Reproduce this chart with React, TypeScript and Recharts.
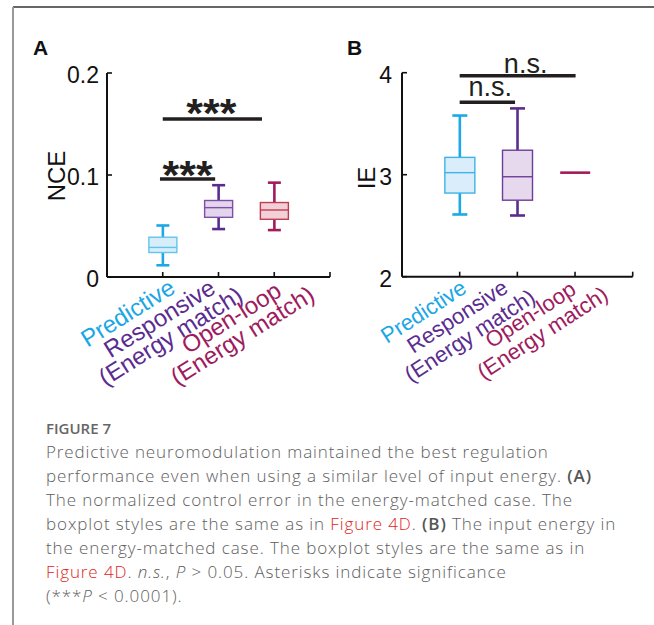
import React from "react";
import { ComposedChart, Bar, XAxis, YAxis, ReferenceLine } from "recharts";

// ---------------- data ----------------
const categories = ["Predictive", "Responsive", "Open-loop"];
const categoryLabelLines = [["Predictive"], ["Responsive", "(Energy match)"], ["Open-loop", "(Energy match)"]];
const categoryX = [1, 2, 3];

// Panel A: normalized control error (NCE)
const nceMin = [0.0115, 0.047, 0.046];
const nceQ1 = [0.024, 0.0585, 0.0566];
const nceMedian = [0.029, 0.068, 0.0657];
const nceQ3 = [0.039, 0.075, 0.073];
const nceMax = [0.0505, 0.09, 0.0925];

// Panel B: input energy (IE)
const ieMin = [2.61, 2.6, 3.02];
const ieQ1 = [2.82, 2.75, 3.02];
const ieMedian = [3.02, 2.98, 3.02];
const ieQ3 = [3.17, 3.24, 3.02];
const ieMax = [3.58, 3.65, 3.02];

const nceTicks = [0, 0.1, 0.2];
const nceTickLabels = ["0", "0.1", "0.2"];
const ieTicks = [2, 3, 4];
const ieTickLabels = ["2", "3", "4"];
const xTicks = [1, 2, 3, 4];

// significance brackets
const nceSigFrom = [0.95, 1.0];
const nceSigTo = [1.94, 2.78];
const nceSigY = [0.096, 0.155];
const nceSigText = ["***", "***"];

const ieSigFrom = [1.0, 1.0];
const ieSigTo = [1.96, 3.01];
const ieSigY = [3.71, 3.97];
const ieSigText = ["n.s.", "n.s."];

// ---------------- styles ----------------
const FONT = "'Liberation Sans', Arial, Helvetica, sans-serif";
const whiskerColors = ["#1ba8e5", "#5b2c90", "#a21b5c"];
const labelColors = ["#1ba6e6", "#5b2c90", "#9e1b5e"];
const boxStrokeA = ["#62c4ee", "#7d4fa6", "#c33b50"];
const boxFillA = ["#d7eefa", "#e3d5eb", "#f1d1d7"];
const boxStrokeB = ["#3fb3e8", "#6d3d9c", "#a21b5c"];
const boxFillB = ["#d9eefa", "#e6d8ed", "#f1d1d7"];

// rotated tick-label layout (local coords in the rotated frame)
const labelCfgA = [
  { anchor: "end", a: [4], k: [20] },
  { anchor: "middle", a: [-72, -72], k: [12, 33] },
  { anchor: "middle", a: [-58, -58], k: [20, 41] },
];
const labelCfgB = [
  { anchor: "end", a: [-1], k: [17] },
  { anchor: "middle", a: [-72, -72], k: [8, 31] },
  { anchor: "middle", a: [-58, -58], k: [15, 37] },
];

function buildRows(mn: number[], q1: number[], md: number[], q3: number[], mx: number[]) {
  return categories.map((c, i) => ({
    name: c,
    idx: i,
    x: categoryX[i],
    range: [mn[i], mx[i]],
    min: mn[i],
    q1: q1[i],
    med: md[i],
    q3: q3[i],
    max: mx[i],
  }));
}

const nceRows = buildRows(nceMin, nceQ1, nceMedian, nceQ3, nceMax);
const ieRows = buildRows(ieMin, ieQ1, ieMedian, ieQ3, ieMax);

function makeBoxShape(boxStroke: string[], boxFill: string[], capHalf: number) {
  return (props: any) => {
    const { x, y, width, height, payload } = props;
    if (!payload) return null;
    const i = payload.idx;
    const top = Math.min(y, y + height);
    const bot = Math.max(y, y + height);
    const span = payload.max - payload.min;
    const py = (v: number) => (span > 0 ? top + ((payload.max - v) / span) * (bot - top) : top);
    const cx = x + width / 2;
    const wc = whiskerColors[i];
    if (span === 0) {
      return <line x1={x} x2={x + width} y1={top} y2={top} stroke={wc} strokeWidth={2.6} />;
    }
    return (
      <g>
        <line x1={cx} x2={cx} y1={py(payload.max)} y2={py(payload.q3)} stroke={wc} strokeWidth={2.6} />
        <line x1={cx} x2={cx} y1={py(payload.q1)} y2={py(payload.min)} stroke={wc} strokeWidth={2.6} />
        <line x1={cx - capHalf} x2={cx + capHalf} y1={py(payload.max)} y2={py(payload.max)} stroke={wc} strokeWidth={2.6} />
        <line x1={cx - capHalf} x2={cx + capHalf} y1={py(payload.min)} y2={py(payload.min)} stroke={wc} strokeWidth={2.6} />
        <rect
          x={x}
          y={py(payload.q3)}
          width={width}
          height={py(payload.q1) - py(payload.q3)}
          fill={boxFill[i]}
          stroke={boxStroke[i]}
          strokeWidth={1.4}
        />
        <line x1={x} x2={x + width} y1={py(payload.med)} y2={py(payload.med)} stroke={boxStroke[i]} strokeWidth={1.4} />
      </g>
    );
  };
}

function makeXTick(cfg: any[], fontSize: number, angle: number) {
  return (props: any) => {
    const { x, y, payload } = props;
    const i = categoryX.indexOf(payload.value);
    return (
      <g>
        <line x1={x} x2={x} y1={y} y2={y - 5} stroke="#111" strokeWidth={1.6} />
        {i >= 0 && (
          <g transform={`translate(${x},${y}) rotate(${-angle})`}>
            {categoryLabelLines[i].map((t, j) => (
              <text
                key={j}
                x={cfg[i].a[j]}
                y={cfg[i].k[j]}
                textAnchor={cfg[i].anchor}
                fontSize={fontSize}
                fontFamily={FONT}
                fill={labelColors[i]}
              >
                {t}
              </text>
            ))}
          </g>
        )}
      </g>
    );
  };
}

function makeYTick(ticks: number[], labels: string[], gap: number) {
  return (props: any) => {
    const { x, y, payload } = props;
    const i = ticks.findIndex((t) => Math.abs(t - payload.value) < 1e-9);
    return (
      <g>
        <line x1={x} x2={x + 5} y1={y} y2={y} stroke="#111" strokeWidth={1.6} />
        <text x={x - gap} y={y + 2} textAnchor="end" dominantBaseline="central" fontSize={23} fontFamily={FONT} fill="#111">
          {i >= 0 ? labels[i] : ""}
        </text>
      </g>
    );
  };
}

const SigLabel = (props: any) => {
  const { viewBox, text, dx, dy, fontSize, bold, textLength } = props;
  if (!viewBox) return null;
  const cx = viewBox.x + viewBox.width / 2 + dx;
  return (
    <text
      x={cx}
      y={viewBox.y + dy}
      textAnchor="middle"
      fontSize={fontSize}
      fontWeight={bold ? "bold" : "normal"}
      fontFamily={FONT}
      fill="#231f20"
      textLength={textLength}
      lengthAdjust="spacingAndGlyphs"
    >
      {text}
    </text>
  );
};

const starsDx = [0, -1];
const starsDy = [10, 8];
const nsDx = [3, 8];
const nsDy = [-6.5, -3];

const BoxA = makeBoxShape(boxStrokeA, boxFillA, 6.5);
const BoxB = makeBoxShape(boxStrokeB, boxFillB, 7.5);
const XTickA = makeXTick(labelCfgA, 24, 32);
const XTickB = makeXTick(labelCfgB, 22, 33);
const YTickA = makeYTick(nceTicks, nceTickLabels, 8);
const YTickB = makeYTick(ieTicks, ieTickLabels, 10);

const axisStyle = { stroke: "#111", strokeWidth: 2 };

export default function App() {
  return (
    <div style={{ position: "absolute", left: 0, top: 0, width: 654, height: 625, background: "#fff", overflow: "hidden" }}>
      {/* Panel A */}
      <div style={{ position: "absolute", left: 0, top: 0 }}>
        <ComposedChart width={340} height={400} data={nceRows} margin={{ top: 73, right: 10, bottom: 122, left: 106 }}>
          <XAxis
            dataKey="x"
            type="number"
            domain={[0, 4]}
            ticks={xTicks}
            interval={0}
            height={1}
            tickSize={0}
            tickMargin={0}
            tickLine={false}
            axisLine={axisStyle}
            tick={XTickA}
          />
          <YAxis
            type="number"
            domain={[0, 0.2]}
            ticks={nceTicks}
            interval={0}
            width={1}
            tickSize={0}
            tickMargin={0}
            tickLine={false}
            axisLine={axisStyle}
            tick={YTickA}
          />
          <Bar dataKey="range" barSize={28} shape={BoxA} isAnimationActive={false} />
          {nceSigY.map((yv, i) => (
            <ReferenceLine
              key={i}
              segment={[
                { x: nceSigFrom[i], y: yv },
                { x: nceSigTo[i], y: yv },
              ]}
              stroke="#231f20"
              strokeWidth={3.5}
              ifOverflow="visible"
              label={<SigLabel text={nceSigText[i]} dx={starsDx[i]} dy={starsDy[i]} fontSize={40} bold textLength={50} />}
            />
          ))}
        </ComposedChart>
      </div>

      {/* Panel B */}
      <div style={{ position: "absolute", left: 340, top: 0 }}>
        <ComposedChart width={314} height={400} data={ieRows} margin={{ top: 72.7, right: 21.3, bottom: 122.3, left: 61 }}>
          <XAxis
            dataKey="x"
            type="number"
            domain={[0, 4]}
            ticks={xTicks}
            interval={0}
            height={1}
            tickSize={0}
            tickMargin={0}
            tickLine={false}
            axisLine={axisStyle}
            tick={XTickB}
          />
          <YAxis
            type="number"
            domain={[2, 4]}
            ticks={ieTicks}
            interval={0}
            width={1}
            tickSize={0}
            tickMargin={0}
            tickLine={false}
            axisLine={axisStyle}
            tick={YTickB}
          />
          <Bar dataKey="range" barSize={30} shape={BoxB} isAnimationActive={false} />
          {ieSigY.map((yv, i) => (
            <ReferenceLine
              key={i}
              segment={[
                { x: ieSigFrom[i], y: yv },
                { x: ieSigTo[i], y: yv },
              ]}
              stroke="#231f20"
              strokeWidth={3.5}
              ifOverflow="visible"
              label={<SigLabel text={ieSigText[i]} dx={nsDx[i]} dy={nsDy[i]} fontSize={27} />}
            />
          ))}
        </ComposedChart>
      </div>

      {/* overlay texts & frame */}
      <svg width={654} height={625} style={{ position: "absolute", left: 0, top: 0, pointerEvents: "none" }}>
        <line x1={13} x2={654} y1={7} y2={7} stroke="#333" strokeWidth={1.5} />
        <line x1={13} x2={13} y1={7} y2={625} stroke="#999" strokeWidth={2} />
        <text x={33} y={55} fontSize={21} fontWeight="bold" fontFamily={FONT} fill="#111">A</text>
        <text x={347} y={55} fontSize={21} fontWeight="bold" fontFamily={FONT} fill="#111">B</text>
        <text transform="translate(65,176) rotate(-90)" textAnchor="middle" fontSize={24} fontFamily={FONT} fill="#111">
          NCE
        </text>
        <text transform="translate(375,178) rotate(-90)" textAnchor="middle" fontSize={24} fontFamily={FONT} fill="#111">
          IE
        </text>
      </svg>

      {/* caption */}
      <div
        style={{
          position: "absolute",
          left: 46,
          top: 418,
          fontFamily: "'Open Sans', sans-serif",
          fontWeight: 600,
          fontSize: 15,
          lineHeight: "20px",
          color: "#666",
          whiteSpace: "nowrap",
        }}
      >
        FIGURE 7
      </div>
      <div
        style={{
          position: "absolute",
          left: 46,
          top: 440,
          fontFamily: "'Open Sans', sans-serif",
          fontWeight: 300,
          fontSize: 17,
          letterSpacing: 0.9,
          lineHeight: "24px",
          color: "#5e5e5e",
          whiteSpace: "nowrap",
        }}
      >
        Predictive neuromodulation maintained the best regulation
        <br />
        performance even when using a similar level of input energy. <b style={{ fontWeight: 600, color: "#555" }}>(A)</b>
        <br />
        The normalized control error in the energy-matched case. The
        <br />
        boxplot styles are the same as in <span style={{ color: "#e2231a" }}>Figure 4D</span>.{" "}
        <b style={{ fontWeight: 600, color: "#555" }}>(B)</b> The input energy in
        <br />
        the energy-matched case. The boxplot styles are the same as in
        <br />
        <span style={{ color: "#e2231a" }}>Figure 4D</span>. <i>n.s.</i>, <i>P</i> &gt; 0.05. Asterisks indicate significance
        <br />
        (***<i>P</i> &lt; 0.0001).
      </div>
    </div>
  );
}
